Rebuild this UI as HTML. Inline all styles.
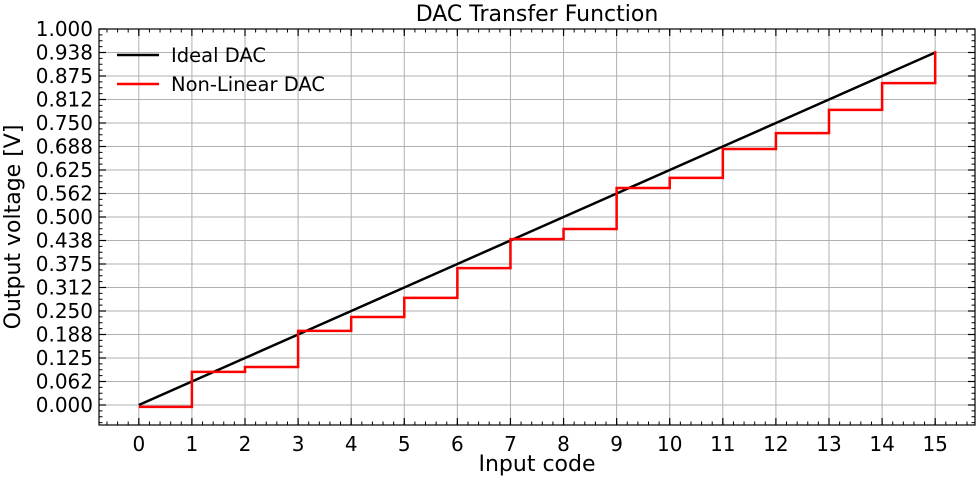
<!DOCTYPE html>
<html><head><meta charset="utf-8"><style>
html,body{margin:0;padding:0;background:#fff;}
svg{display:block;font-family:"DejaVu Sans","Liberation Sans",sans-serif;}
</style></head><body>
<svg id="chart" width="980" height="480" viewBox="0 0 980 480" xmlns="http://www.w3.org/2000/svg">
<rect width="980" height="480" fill="#fff"/>
<g id="grid"></g>
<g id="series"></g>
<g id="ticks"></g>
<rect x="99" y="29" width="876" height="396" fill="none" stroke="#000" stroke-width="1.2"/>
<text x="537" y="21" font-size="22" text-anchor="middle">DAC Transfer Function</text>
<text x="537" y="471" font-size="22" text-anchor="middle">Input code</text>
<text transform="translate(20,227) rotate(-90)" font-size="22" text-anchor="middle">Output voltage [V]</text>
<g>
<line x1="117" y1="55" x2="159" y2="55" stroke="#000" stroke-width="2.5"/>
<text x="171" y="62" font-size="19.5">Ideal DAC</text>
<line x1="117" y1="84" x2="159" y2="84" stroke="#f00" stroke-width="2.5"/>
<text x="171" y="91" font-size="19.5">Non-Linear DAC</text>
</g>
</svg>
<script>
const codes = [0,1,2,3,4,5,6,7,8,9,10,11,12,13,14,15];
const idealValues = [0,0.0625,0.125,0.1875,0.25,0.3125,0.375,0.4375,0.5,0.5625,0.625,0.6875,0.75,0.8125,0.875,0.9375];
const nonLinearValues = [-0.005,0.088,0.101,0.197,0.234,0.285,0.364,0.441,0.468,0.577,0.604,0.681,0.723,0.785,0.856,0.941];
const yTickValues = [0,0.0625,0.125,0.1875,0.25,0.3125,0.375,0.4375,0.5,0.5625,0.625,0.6875,0.75,0.8125,0.875,0.9375,1.0];
const yTickLabels = ["0.000","0.062","0.125","0.188","0.250","0.312","0.375","0.438","0.500","0.562","0.625","0.688","0.750","0.812","0.875","0.938","1.000"];

const L=99,R=975,T=29,B=425;
const xMin=-0.75,xMax=15.75;
const y0px=405,y1px=29;
function xs(v){return L+(v-xMin)/(xMax-xMin)*(R-L);}
function ys(v){return y0px+(y1px-y0px)*v;}
const NS="http://www.w3.org/2000/svg";
function mk(tag,attrs,parent){const e=document.createElementNS(NS,tag);for(const k in attrs)e.setAttribute(k,attrs[k]);parent.appendChild(e);return e;}
const grid=document.getElementById('grid'),ticks=document.getElementById('ticks'),series=document.getElementById('series');

codes.forEach(c=>{
  const x=xs(c);
  const g=mk('line',{x1:x,y1:T,x2:x,y2:B,stroke:'#b0b0b0','stroke-width':1},grid);
  
  
  mk('line',{x1:x,y1:B,x2:x,y2:B-7,stroke:'#000','stroke-width':1.2},ticks);
  mk('line',{x1:x,y1:T,x2:x,y2:T+7,stroke:'#000','stroke-width':1.2},ticks);
  const t=mk('text',{x:x,y:B+26,'font-size':20,'text-anchor':'middle'},ticks);
  t.textContent=c;
  
  
});
for(let v=Math.ceil(xMin*5)/5;v<=xMax;v+=0.2){
  const x=xs(v);
  mk('line',{x1:x,y1:B,x2:x,y2:B-3.5,stroke:'#000','stroke-width':1},ticks);
  mk('line',{x1:x,y1:T,x2:x,y2:T+3.5,stroke:'#000','stroke-width':1},ticks);
}
yTickValues.forEach((v,i)=>{
  const y=ys(v);
  const g=mk('line',{x1:L,y1:y,x2:R,y2:y,stroke:'#b0b0b0','stroke-width':1},grid);
  
  
  mk('line',{x1:L,y1:y,x2:L+7,y2:y,stroke:'#000','stroke-width':1.2},ticks);
  mk('line',{x1:R,y1:y,x2:R-7,y2:y,stroke:'#000','stroke-width':1.2},ticks);
  const t=mk('text',{x:L-6,y:y+7,'font-size':20,'text-anchor':'end'},ticks);
  t.textContent=yTickLabels[i];
  
  
});
for(let v=-0.0625;v<=1.07;v+=0.015625){
  const y=ys(v); if(y<T||y>B) continue;
  mk('line',{x1:L,y1:y,x2:L+3.5,y2:y,stroke:'#000','stroke-width':1},ticks);
  mk('line',{x1:R,y1:y,x2:R-3.5,y2:y,stroke:'#000','stroke-width':1},ticks);
}
let d='';
codes.forEach((c,i)=>{d+=(i?'L':'M')+xs(c)+','+ys(idealValues[i]);});
const ideal=mk('path',{d:d,fill:'none',stroke:'#000','stroke-width':2.5},series);


let d2='';
codes.forEach((c,i)=>{
  if(i===0) d2+='M'+xs(c)+','+ys(nonLinearValues[i]);
  else d2+='L'+xs(c)+','+ys(nonLinearValues[i-1])+'L'+xs(c)+','+ys(nonLinearValues[i]);
});
const nl=mk('path',{d:d2,fill:'none',stroke:'#f00','stroke-width':2.5},series);


</script>
</body></html>
